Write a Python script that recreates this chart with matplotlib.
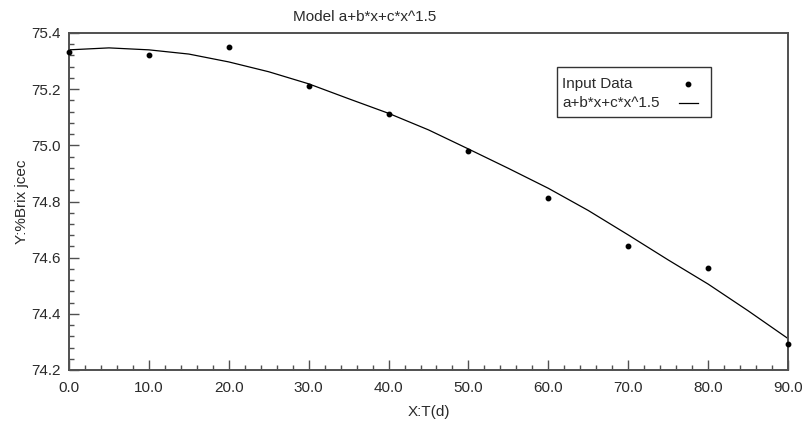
import matplotlib
matplotlib.use("Agg")
import matplotlib.pyplot as plt
from matplotlib.lines import Line2D
from matplotlib.patches import Rectangle
from matplotlib.ticker import MultipleLocator, FormatStrFormatter

plt.rcParams['font.family'] = ['Liberation Sans', 'DejaVu Sans']

# measured data points
t_days = [0, 10, 20, 30, 40, 50, 60, 70, 80, 90]
brix = [75.331, 75.321, 75.351, 75.211, 75.110, 74.980, 74.813, 74.640, 74.562, 74.291]

# fitted curve a+b*x+c*x^1.5
fit_x = [0, 5, 10, 15, 20, 25, 30, 35, 40, 45, 50, 55, 60, 65, 70, 75, 80, 85, 90]
fit_y = [75.340, 75.347, 75.340, 75.325, 75.297, 75.262, 75.219, 75.166, 75.114, 75.055,
         74.987, 74.918, 74.847, 74.768, 74.681, 74.592, 74.506, 74.411, 74.312]

legend_labels = ['Input Data', 'a+b*x+c*x^1.5']

W, H = 803, 423
fig = plt.figure(figsize=(W / 100, H / 100), dpi=100)
ax = fig.add_axes([69 / W, 1 - 370 / H, 719 / W, 337 / H])

ax.plot(t_days, brix, 'o', color='black', markersize=3.2, linestyle='none',
        clip_on=False, zorder=3)
ax.plot(fit_x, fit_y, '-', color='black', linewidth=0.9)

ax.set_xlim(0, 90)
ax.set_ylim(74.2, 75.4)
ax.xaxis.set_major_locator(MultipleLocator(10))
ax.xaxis.set_minor_locator(MultipleLocator(2))
ax.yaxis.set_major_locator(MultipleLocator(0.2))
ax.yaxis.set_minor_locator(MultipleLocator(0.04))
ax.xaxis.set_major_formatter(FormatStrFormatter('%.1f'))
ax.yaxis.set_major_formatter(FormatStrFormatter('%.1f'))

spine_col = '#505050'
txt_col = '#2a2a2a'
for s in ax.spines.values():
    s.set_color(spine_col)
    s.set_linewidth(1.4)
ax.tick_params(which='major', direction='in', length=7, width=1, color=spine_col,
               labelsize=11, labelcolor=txt_col, top=False, right=False)
ax.tick_params(which='minor', direction='in', length=3.5, width=1, color=spine_col,
               top=False, right=False)
ax.tick_params(axis='x', pad=8)
ax.tick_params(axis='y', pad=6)

ax.set_xlabel('X:T(d)', fontsize=11, color=txt_col, va='center')
ax.set_ylabel('Y:%Brix jcec', fontsize=11, color=txt_col, va='center')
ax.xaxis.set_label_coords(0.5, -(412 - 370) / 337)
ax.yaxis.set_label_coords(-(69 - 22) / 719, 0.5)
fig.text(365 / W, 1 - 17 / H, 'Model a+b*x+c*x^1.5', ha='center', va='center',
         fontsize=11, color=txt_col)

# legend box drawn by hand so the labels sit left-aligned with samples on the right
def fx(px):
    return px / W

def fy(py):
    return 1 - py / H

fig.patches.append(Rectangle((fx(557), fy(117)), fx(711) - fx(557), fy(67) - fy(117),
                             transform=fig.transFigure, facecolor='white',
                             edgecolor='#333333', linewidth=1.0, zorder=5))
row_y = [84, 103]
fig.text(fx(562), fy(row_y[0]), legend_labels[0], ha='left', va='center',
         fontsize=11, color=txt_col, zorder=6)
fig.text(fx(562), fy(row_y[1]), legend_labels[1], ha='left', va='center',
         fontsize=11, color=txt_col, zorder=6)
fig.lines.append(Line2D([fx(688)], [fy(row_y[0])], marker='o', markersize=3.2,
                        color='black', linestyle='none', transform=fig.transFigure,
                        zorder=6))
fig.lines.append(Line2D([fx(679), fx(698)], [fy(row_y[1]), fy(row_y[1])],
                        color='black', linewidth=0.9, transform=fig.transFigure,
                        zorder=6))

fig.savefig('out.png', dpi=100)
